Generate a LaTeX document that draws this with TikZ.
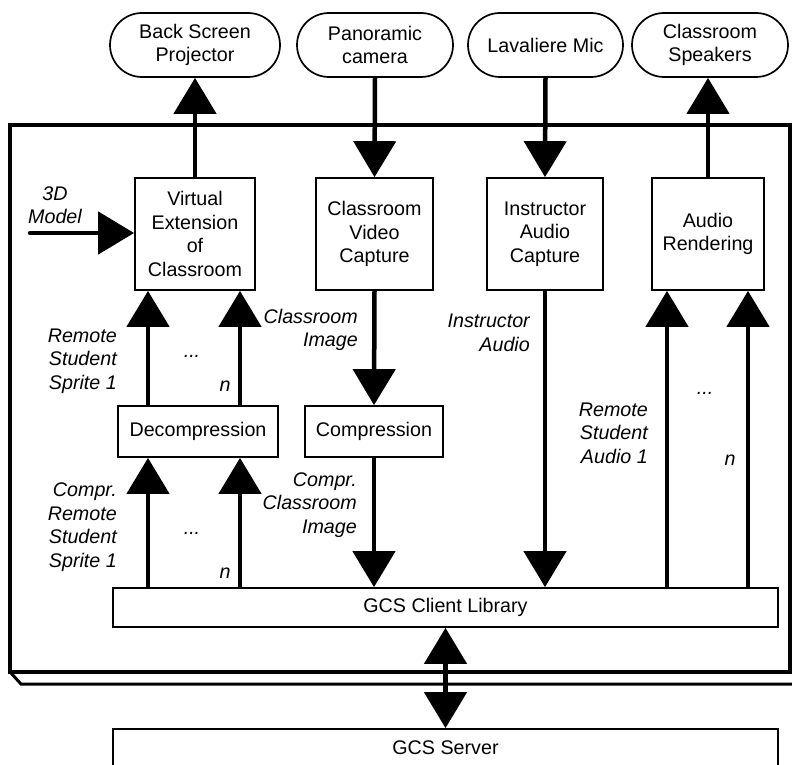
\documentclass[tikz,border=0pt]{standalone}
\usepackage{fontspec}
\setmainfont{Liberation Sans}
\usetikzlibrary{arrows.meta,calc}
\begin{document}
\begin{tikzpicture}[x=1pt,y=-1pt,
  txt/.style={font=\fontsize{19.7pt}{23.5pt}\selectfont},
  box/.style={txt,draw,line width=1.7pt,inner sep=0pt,align=center},
  pill/.style={box,rounded corners=32pt,minimum height=64pt},
  lbl/.style={txt,font=\fontsize{19.7pt}{23.5pt}\selectfont\itshape,inner sep=0pt},
  arr/.style={line width=4.5pt,-{Triangle[length=36pt,width=42pt]}},
  dbl/.style={line width=4.5pt,{Triangle[length=36pt,width=42pt]}-{Triangle[length=36pt,width=42pt]}}
]
\useasboundingbox (0,0) rectangle (792,765);
\clip (0,0) rectangle (792,765);
% outer frame with shadow
\draw[line width=3.5pt] (10,125) rectangle (790,672);
\draw[line width=3pt] (11,673) -- (21,684) -- (800,684);
% pills
\node[pill,minimum width=170pt] (bsp) at (195,45) {Back Screen\\Projector};
\node[pill,minimum width=156pt] (pan) at (375,45) {Panoramic\\camera};
\node[pill,minimum width=155pt] (lav) at (545.5,45) {Lavaliere Mic};
\node[pill,minimum width=156pt] (spk) at (710,45) {Classroom\\Speakers};
% upper boxes
\node[box,minimum width=120pt,minimum height=112pt] (virt) at (195,234) {Virtual\\Extension\\of\\Classroom};
\node[box,minimum width=117pt,minimum height=112pt] (cvc) at (374.5,234) {Classroom\\Video\\Capture};
\node[box,minimum width=116pt,minimum height=112pt] (iac) at (545,234) {Instructor\\Audio\\Capture};
\node[box,minimum width=112pt,minimum height=112pt] (ar) at (708,234) {Audio\\Rendering};
% middle boxes
\node[box,minimum width=160pt,minimum height=51pt] (dec) at (198,431.5) {Decompression};
\node[box,minimum width=138pt,minimum height=51pt] (comp) at (374,431.5) {Compression};
% bottom boxes
\node[box,minimum width=665pt,minimum height=39pt] (gcl) at (445.5,607.5) {GCS Client Library};
\node[box,minimum width=665pt,minimum height=38pt] (gcs) at (445.5,748) {GCS Server};
% helper coordinates
\coordinate (xa) at (148,0);
\coordinate (xb) at (240,0);
\coordinate (xc) at (667,0);
\coordinate (xd) at (748,0);
\coordinate (m3d) at (30,233);
% connectors
\draw[arr] (virt.north) -- (bsp.south);
\draw[arr] (pan.south) -- (cvc.north);
\draw[arr] (lav.south) -- (iac.north);
\draw[arr] (ar.north) -- (ar.north |- spk.south);
\draw[arr,line cap=round] (m3d) -- (m3d -| virt.west);
\draw[arr] (xa |- dec.north) -- (xa |- virt.south);
\draw[arr] (xb |- dec.north) -- (xb |- virt.south);
\draw[arr] (cvc.south) -- (comp.north);
\draw[arr] (xa |- gcl.north) -- (xa |- dec.south);
\draw[arr] (xb |- gcl.north) -- (xb |- dec.south);
\draw[arr] (comp.south) -- (comp.south |- gcl.north);
\draw[arr] (iac.south) -- (iac.south |- gcl.north);
\draw[arr] (xc |- gcl.north) -- (xc |- ar.south);
\draw[arr] (xd |- gcl.north) -- (xd |- ar.south);
\draw[dbl] (gcl.south) -- (gcs.north);
% labels
\node[lbl,align=center] (l3d) at (55,205) {3D\\Model};
\node[lbl,align=right,anchor=east] (lrs) at (117,361) {Remote\\Student\\Sprite 1};
\node[lbl,align=right,anchor=east] (lci) at (358,330) {Classroom\\Image};
\node[lbl,align=right,anchor=east] (lcrs) at (117,527) {Compr.\\Remote\\Student\\Sprite 1};
\node[lbl,align=right,anchor=east] (lcci) at (357,505) {Compr.\\Classroom\\Image};
\node[lbl,align=right,anchor=east] (lia) at (530,333) {Instructor\\Audio};
\node[lbl,align=right,anchor=east] (lrsa) at (648,433) {Remote\\Student\\Audio 1};
\node[lbl] (d1) at (192,356) {...};
\node[lbl] (d2) at (192,533) {...};
\node[lbl] (d3) at (705,393) {...};
\node[lbl] (n1) at (225,386) {n};
\node[lbl] (n2) at (225,573) {n};
\node[lbl] (n3) at (730,460) {n};
\end{tikzpicture}
\end{document}
